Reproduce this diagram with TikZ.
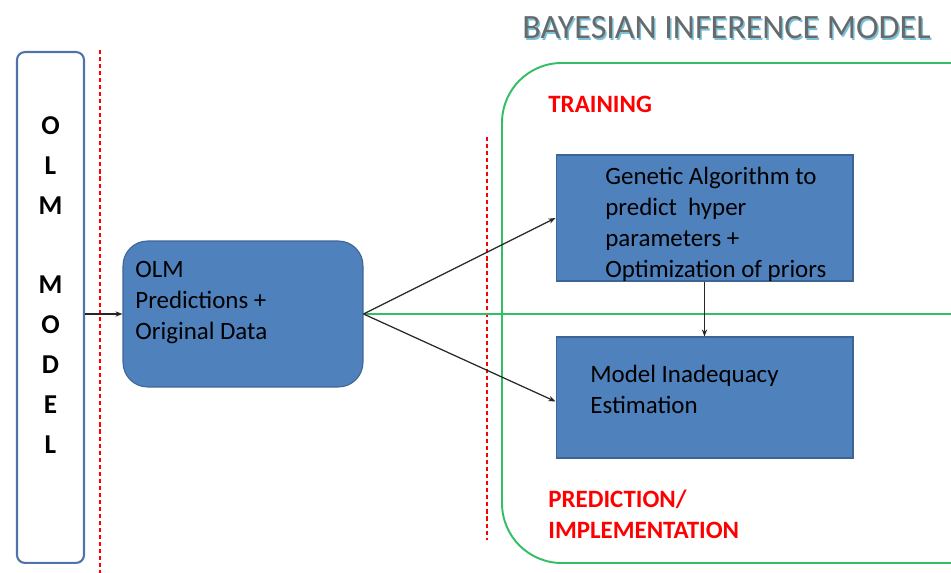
\documentclass[tikz,border=0pt]{standalone}
\usepackage{fontspec}
\setmainfont{Carlito}
\usetikzlibrary{arrows.meta,positioning,calc}

\definecolor{boxblue}{RGB}{79,129,189}
\definecolor{boxedge}{RGB}{60,100,150}
\definecolor{olmedge}{RGB}{80,115,170}
\definecolor{zonegreen}{RGB}{50,190,100}
\definecolor{titlegrey}{RGB}{105,105,105}
\definecolor{titlecyan}{RGB}{120,195,220}

\tikzset{
  olmbox/.style={draw=olmedge,line width=1.2pt,fill=white,rounded corners=4.5pt},
  blk/.style={draw=boxedge,line width=0.6pt,fill=boxblue},
  blktext/.style={inner sep=0pt,align=left,anchor=north west,
    font=\fontsize{14.2}{17.6}\selectfont},
  flow/.style={-{Stealth[length=4pt,width=3pt]},line width=0.7pt,black!85},
  cutline/.style={red,line width=1pt,dash pattern=on 2.3pt off 1.7pt},
  zone/.style={draw=zonegreen,line width=1.1pt},
  phase/.style={red,inner sep=0pt,anchor=north west,align=left,
    font=\fontsize{14.2}{17.6}\selectfont\bfseries}
}

\begin{document}
\begin{tikzpicture}[x=0.02cm,y=-0.02cm]
  \clip (0,0) rectangle (951,573);

  % dashed separators
  \draw[cutline] (100,50) -- (100,573);
  \draw[cutline] (487,137) -- (487,540);

  % bayesian zone
  \draw[zone,rounded corners=34pt] (502,63) rectangle (1010,563);
  \node[titlecyan,font=\fontsize{19.4}{22}\selectfont] (titleshadow) at (728,29.5) {BAYESIAN INFERENCE MODEL};
  \node[titlegrey,font=\fontsize{19.4}{22}\selectfont] (title) at (726.5,28) {BAYESIAN INFERENCE MODEL};
  \node[phase] (training) at (548,96) {TRAINING};
  \node[phase] (predimpl) at (548,490) {PREDICTION/\\IMPLEMENTATION};

  % boxes
  \node[olmbox,minimum width=1.34cm,minimum height=10.22cm] (olm) at (50.5,307.5) {};
  \node[font=\fontsize{15.5}{22.7}\selectfont\bfseries,align=center] (olmtext) at (50.5,285)
    {O\\L\\M\\~\\M\\O\\D\\E\\L};
  \node[blk,rounded corners=14pt,minimum width=4.8cm,minimum height=2.92cm] (pred) at (243,314) {};
  \node[blktext] (predtext) at (135,261) {OLM\\Predictions +\\Original Data};
  \node[blk,minimum width=5.94cm,minimum height=2.52cm] (ga) at (704.5,218) {};
  \node[blktext] (gatext) at (605,167) {Genetic Algorithm to\\predict\ \ hyper\\parameters +\\Optimization of priors};
  \node[blk,minimum width=5.94cm,minimum height=2.42cm] (mie) at (704.5,397.5) {};
  \node[blktext] (mietext) at (590,365) {Model Inadequacy\\Estimation};

  % connectors
  \coordinate (rim) at (951,314);
  \draw[zonegreen,line width=1.1pt] (pred.east) -- (rim);
  \draw[flow] (olm.east |- pred.west) -- (pred.west);
  \draw[flow] (pred.east) -- (ga.west);
  \draw[flow] (pred.east) -- ($(mie.west)+(0,4)$);
  \draw[flow] (ga.south) -- (mie.north);
\end{tikzpicture}
\end{document}
